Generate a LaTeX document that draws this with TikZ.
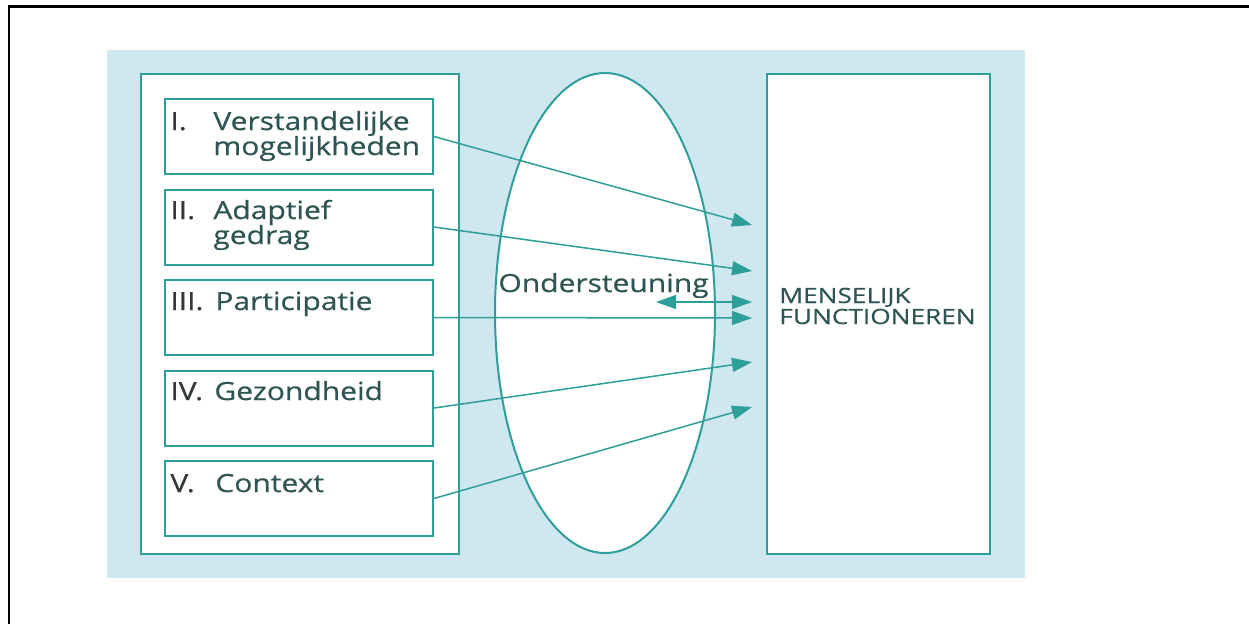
\documentclass[tikz,border=0pt]{standalone}
\usepackage{fontspec}
\setmainfont{Open Sans}
\newfontfamily\labfont{Open Sans}[FakeStretch=1.2,FakeBold=0.6]
\newfontfamily\capfont{Open Sans}[FakeStretch=1.25,FakeBold=0.5]
\usetikzlibrary{arrows.meta}
\definecolor{bgblue}{HTML}{CFE7EF}
\definecolor{teal1}{HTML}{2E9E9B}
\definecolor{wordcol}{HTML}{2F5553}
\definecolor{numcol}{HTML}{333838}
\tikzset{
  box/.style={draw=teal1, line width=1pt, fill=white, anchor=north west, inner sep=0pt, rectangle},
  lbl/.style={anchor=base west, inner sep=0pt, text=wordcol, font=\labfont\fontsize{12.5}{14}\selectfont},
  num/.style={anchor=base west, inner sep=0pt, text=numcol, font=\labfont\fontsize{12.5}{14}\selectfont},
  conn/.style={draw=teal1, line width=0.75pt, -{Triangle[length=10pt,width=7pt]}},
}
\begin{document}
\begin{tikzpicture}[x=0.5pt,y=-0.5pt]
\useasboundingbox (0,0) rectangle (1249,623);
% outer frame
\draw[line width=1.3pt] (9,640) -- (9,6.5) -- (1260,6.5);
% background
\fill[bgblue] (107,50) rectangle (1025,578);
% left container
\node[box, minimum width=159pt, minimum height=240pt] (left) at (140,73) {};
% boxes
\node[box, minimum width=134pt, minimum height=37.5pt] (b1) at (164,98) {};
\node[box, minimum width=134pt, minimum height=37.5pt] (b2) at (164,188.5) {};
\node[box, minimum width=134pt, minimum height=37.5pt] (b3) at (164,279) {};
\node[box, minimum width=134pt, minimum height=37.5pt] (b4) at (164,369.5) {};
\node[box, minimum width=134pt, minimum height=37.5pt] (b5) at (164,460) {};
% ellipse
\draw[teal1, line width=1pt, fill=white] (605,313) ellipse [x radius=110, y radius=240];
% right box
\node[box, minimum width=111.5pt, minimum height=240pt] (right) at (766,73) {};
% texts
\node[num] (n1) at (170,130) {I.};
\node[lbl] (t1a) at (213,130) {Verstandelijke};
\node[lbl] (t1b) at (213,155) {mogelijkheden};
\node[num] (n2) at (170,219) {II.};
\node[lbl] (t2a) at (213,219) {Adaptief};
\node[lbl] (t2b) at (213,244) {gedrag};
\node[num] (n3) at (170,310) {III.};
\node[lbl] (t3) at (215,310) {Participatie};
\node[num] (n4) at (170,400) {IV.};
\node[lbl] (t4) at (214,400) {Gezondheid};
\node[num] (n5) at (170,492) {V.};
\node[lbl] (t5) at (215,492) {Context};
\node[lbl] (ond) at (498,292) {Ondersteuning};
\node[anchor=base west, inner sep=0pt, text=wordcol, font=\capfont\fontsize{10.5}{10.5}\selectfont, align=left] (mf) at (779,324) {MENSELIJK\\FUNCTIONEREN};
% arrow end points
\coordinate (e1) at (752,225);
\coordinate (e2) at (752,271);
\coordinate (e3) at (752,318);
\coordinate (e4) at (752,362);
\coordinate (e5) at (752,407);
\coordinate (d1) at (656,302);
\coordinate (d2) at (752,302);
% arrows
\draw[conn] (b1.east) -- (e1);
\draw[conn] (b2.east) -- (e2);
\draw[conn] (b3.east) -- (e3);
\draw[conn] (b4.east) -- (e4);
\draw[conn] (b5.east) -- (e5);
\draw[conn, {Triangle[length=10pt,width=7pt]}-{Triangle[length=10pt,width=7pt]}] (d1) -- (d2);
\end{tikzpicture}
\end{document}
